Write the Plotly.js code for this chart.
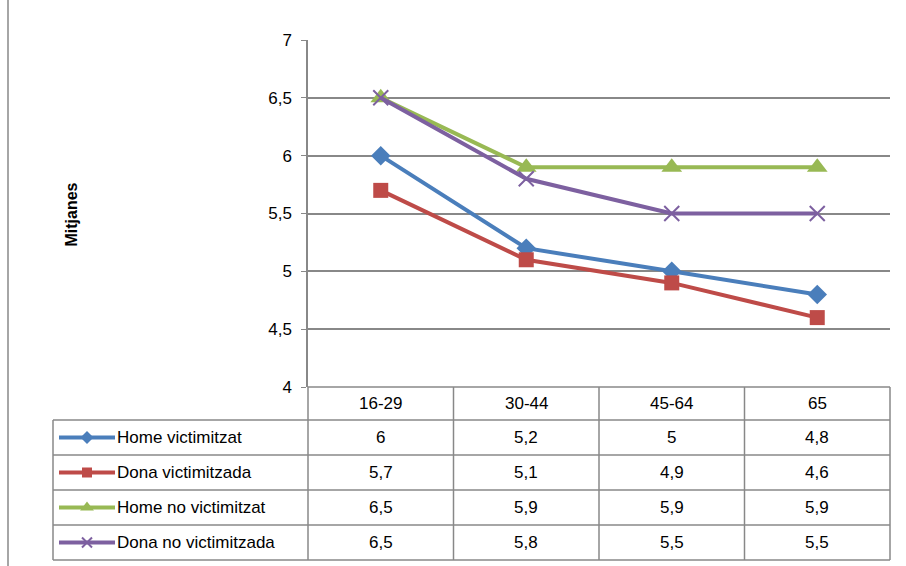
<!DOCTYPE html>
<html><head><meta charset="utf-8">
<script src="https://cdn.plot.ly/plotly-3.0.1.min.js"></script>
<style>body{margin:0}</style></head>
<body><div id="myDiv" style="width:906px;height:566px"></div>
<script>
var ages = ['16-29', '30-44', '45-64', '65'];
var names = ['Home victimitzat', 'Dona victimitzada', 'Home no victimitzat', 'Dona no victimitzada'];
var homeVict = [6, 5.2, 5, 4.8];
var donaVict = [5.7, 5.1, 4.9, 4.6];
var homeNo = [6.5, 5.9, 5.9, 5.9];
var donaNo = [6.5, 5.8, 5.5, 5.5];
var series = [homeVict, donaVict, homeNo, donaNo];
var yTicks = [4, 4.5, 5, 5.5, 6, 6.5, 7];
var colors = ['#4A7EBB', '#BE4B48', '#98B954', '#7D60A0'];
var symbols = ['diamond', 'square', 'triangle-up', 'x-thin'];
var sizes = [15, 15, 18, 15];

var W = 906, H = 566;
function px(x) { return x / W; }
function py(y) { return 1 - y / H; }
var rows = [387, 420, 455, 490, 525, 560];
function f(sz) { return {family: 'Liberation Sans', size: sz || 17, color: '#000'}; }
function lab(v) { return String(v).replace('.', ','); }

var data = [];
series.forEach(function (s, i) {
    data.push({x: ages, y: s, type: 'scatter', mode: 'lines+markers', name: names[i],
        line: {color: colors[i], width: 4},
        marker: {symbol: symbols[i], size: sizes[i], color: colors[i],
            line: {color: colors[i], width: i == 3 ? 2 : 0}}, showlegend: false});
    // legend key in table
    data.push({x: [0, 1], y: [i + 0.5, i + 0.5], xaxis: 'x2', yaxis: 'y2',
        type: 'scatter', mode: 'lines', line: {color: colors[i], width: 4}, showlegend: false, hoverinfo: 'skip'});
    data.push({x: [0.5], y: [i + 0.5], xaxis: 'x2', yaxis: 'y2', type: 'scatter', mode: 'markers',
        marker: {symbol: symbols[i], size: i == 2 ? 12 : 10, color: colors[i], line: {color: colors[i], width: i == 3 ? 2 : 0}},
        showlegend: false, hoverinfo: 'skip'});
});

var shapes = [];
var ln = {color: '#888', width: 1.5};
rows.forEach(function (r, k) {
    shapes.push({type: 'line', xref: 'paper', yref: 'paper', x0: px(k == 0 ? 308 : 53), x1: px(890),
        y0: py(r), y1: py(r), line: ln});
});
[308, 453.5, 599, 744.5, 890].forEach(function (c) {
    shapes.push({type: 'line', xref: 'paper', yref: 'paper', x0: px(c), x1: px(c),
        y0: py(rows[0]), y1: py(rows[5]), line: ln});
});
shapes.push({type: 'line', xref: 'paper', yref: 'paper', x0: px(53), x1: px(53),
    y0: py(rows[1]), y1: py(rows[5]), line: ln});
shapes.push({type: 'line', xref: 'paper', yref: 'paper', x0: px(8), x1: px(8),
    y0: 0, y1: 1, line: ln});

var ann = [];
ages.forEach(function (a, j) {
    ann.push({x: j, xref: 'x', yref: 'paper', yanchor: 'middle', y: py((rows[0] + rows[1]) / 2), text: a,
        showarrow: false, font: f()});
    series.forEach(function (s, i) {
        ann.push({x: j, xref: 'x', yref: 'paper', yanchor: 'middle', y: py((rows[i + 1] + rows[i + 2]) / 2),
            text: lab(s[j]), showarrow: false, font: f()});
    });
});
names.forEach(function (n, i) {
    ann.push({x: px(115), xref: 'paper', xanchor: 'left', yanchor: 'middle', yref: 'paper',
        y: py((rows[i + 1] + rows[i + 2]) / 2), text: n, showarrow: false, font: f()});
});
ann.push({x: px(60), y: py(215), xref: 'paper', yref: 'paper', text: '<b>Mitjanes</b>',
    textangle: -90, showarrow: false, font: f(16)});

var layout = {
    width: W, height: H,
    margin: {l: 0, r: 0, t: 0, b: 0},
    paper_bgcolor: '#fff', plot_bgcolor: '#fff',
    font: f(),
    xaxis: {domain: [px(308), px(890)], type: 'category', showticklabels: false,
        showgrid: false, zeroline: false, range: [-0.5, 3.5], fixedrange: true},
    yaxis: {domain: [py(387), py(40)], range: [4, 7], tickvals: yTicks, ticktext: yTicks.map(lab),
        gridcolor: '#888', gridwidth: 1.5, showline: true, linecolor: '#888',
        linewidth: 1.5, ticks: 'outside', ticklen: 5, tickcolor: '#888', zeroline: false,
        ticklabelstandoff: 6, tickfont: f()},
    xaxis2: {domain: [px(59), px(115)], range: [0, 1], visible: false},
    yaxis2: {domain: [py(560), py(420)], range: [4, 0], visible: false},
    shapes: shapes,
    annotations: ann
};
Plotly.newPlot('myDiv', data, layout, {displayModeBar: false});
</script></body></html>
